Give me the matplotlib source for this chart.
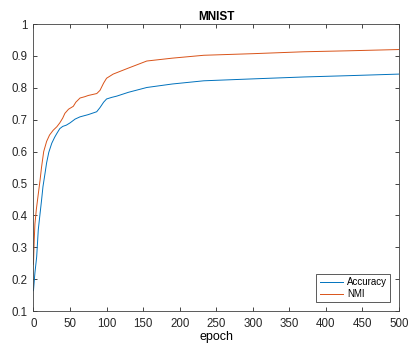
import matplotlib.pyplot as plt

plt.rcParams["font.family"] = ["Liberation Sans", "DejaVu Sans"]

# Values
epochs_acc = [0, 2, 4.4, 6.6, 9, 11, 13, 15.7, 18, 21, 25, 29, 32, 36, 40, 45, 50,
              57, 63.7, 75, 86.5, 91, 96, 100, 107, 114, 130, 155, 190, 233, 300,
              370, 430, 500]
accuracy = [0.164, 0.22, 0.27, 0.355, 0.405, 0.446, 0.49, 0.53, 0.565, 0.598, 0.626,
            0.645, 0.657, 0.672, 0.679, 0.683, 0.69, 0.702, 0.709, 0.716, 0.725,
            0.738, 0.755, 0.765, 0.77, 0.774, 0.786, 0.801, 0.812, 0.822, 0.828,
            0.834, 0.838, 0.843]

epochs_nmi = [0, 1, 2, 4, 6.6, 9, 11, 14, 18, 22, 27, 32, 36, 40, 43, 48, 54.5, 58,
              63.7, 70, 75, 86.6, 91, 96, 100, 109, 130, 155, 190, 233, 300, 370,
              430, 500]
nmi = [0.247, 0.32, 0.373, 0.42, 0.467, 0.51, 0.55, 0.6, 0.632, 0.652, 0.667, 0.678,
       0.69, 0.705, 0.72, 0.733, 0.742, 0.755, 0.768, 0.772, 0.776, 0.782, 0.792,
       0.815, 0.83, 0.843, 0.862, 0.884, 0.893, 0.902, 0.907, 0.913, 0.916, 0.92]

x_ticks = [0, 50, 100, 150, 200, 250, 300, 350, 400, 450, 500]
y_ticks = [0.1, 0.2, 0.3, 0.4, 0.5, 0.6, 0.7, 0.8, 0.9, 1]
y_labels = ["0.1", "0.2", "0.3", "0.4", "0.5", "0.6", "0.7", "0.8", "0.9", "1"]

fig = plt.figure(figsize=(4.08, 3.48), dpi=100)
ax = fig.add_axes([0.082, 0.106, 0.896, 0.825])

ax.plot(epochs_acc, accuracy, color="#0072BD", linewidth=0.7, label="Accuracy")
ax.plot(epochs_nmi, nmi, color="#D95319", linewidth=0.7, label="NMI")

ax.set_xlim(0, 500)
ax.set_ylim(0.1, 1)
ax.set_xticks(x_ticks)
ax.set_yticks(y_ticks)
ax.set_yticklabels(y_labels)
ax.tick_params(direction="in", top=True, right=True, length=3, width=0.6,
               labelsize=8.3, colors="#262626")
ax.tick_params(axis="x", pad=5)
ax.tick_params(axis="y", pad=4)
for s in ax.spines.values():
    s.set_linewidth(0.6)
    s.set_color("#404040")

ax.set_title("MNIST", fontsize=8.5, fontweight="bold", pad=3)
ax.set_xlabel("epoch", fontsize=9, labelpad=1)

leg = ax.legend(loc="lower right", fontsize=7, fancybox=False, framealpha=1,
                edgecolor="#404040", handlelength=2.4, borderpad=0.35,
                labelspacing=0.2, borderaxespad=0.9, handletextpad=0.4)
leg.get_frame().set_linewidth(0.6)

fig.savefig("out.png", dpi=100)
